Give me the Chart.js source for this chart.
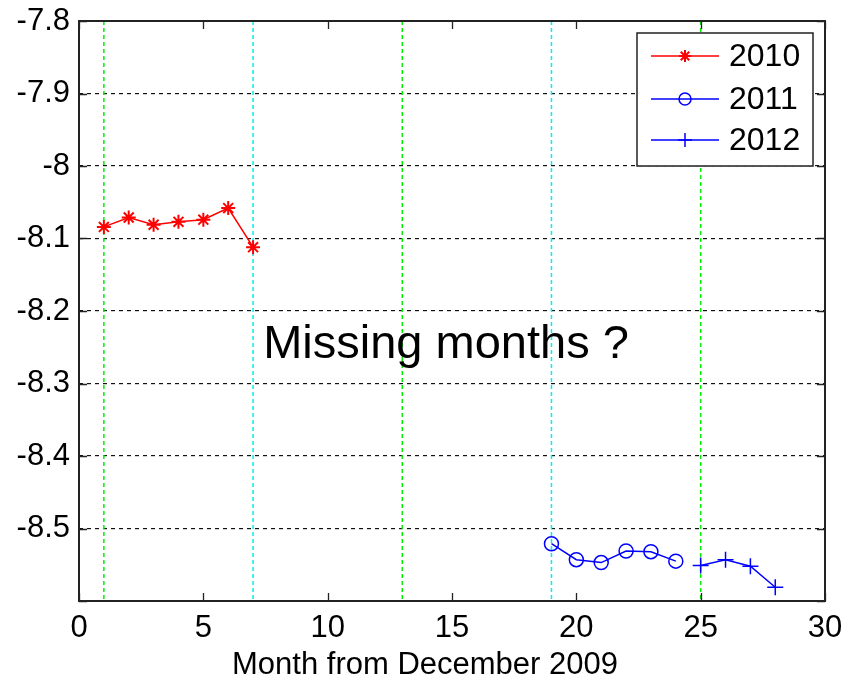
<!DOCTYPE html>
<html>
<head>
<meta charset="utf-8">
<script src="https://cdn.jsdelivr.net/npm/chart.js@4/dist/chart.umd.min.js"></script>
<style>
  html, body { margin: 0; padding: 0; background: #fff; }
  #wrap { width: 844px; height: 679px; position: relative; }
</style>
</head>
<body>
<div id="wrap"><canvas id="c" width="844" height="679"></canvas></div>
<script>
// Monthly values, x = month counted from December 2009
const months2010 = [1, 2, 3, 4, 5, 6, 7];
const values2010 = [-8.084, -8.071, -8.081, -8.077, -8.074, -8.058, -8.112];

const months2011 = [19, 20, 21, 22, 23, 24];
const values2011 = [-8.521, -8.543, -8.547, -8.531, -8.532, -8.545];

const months2012 = [25, 26, 27, 28];
const values2012 = [-8.551, -8.543, -8.552, -8.581];

// Reference month markers (January and July of each year)
const januaryMonths = [1, 13, 25];
const julyMonths = [7, 19];

const xTickValues = [0, 5, 10, 15, 20, 25, 30];
const yTickValues = [-7.8, -7.9, -8.0, -8.1, -8.2, -8.3, -8.4, -8.5, -8.6];

const xAxisTitle = 'Month from December 2009';
const noteText = 'Missing months ?';
const noteX = 14.76;
const noteY = -8.265;

const FONT = '"Liberation Sans", Arial, sans-serif';

const toPoints = (xs, ys) => xs.map((x, i) => ({ x, y: ys[i] }));

// Vertical coloured month markers plus inward tick marks and closed box
const frame = {
  id: 'frame',
  beforeDatasetsDraw(chart) {
    const { ctx, chartArea: a, scales: { x } } = chart;
    ctx.save();
    ctx.lineWidth = 1.5;
    ctx.setLineDash([4, 3]);
    const vline = (m, color) => {
      const px = x.getPixelForValue(m);
      ctx.strokeStyle = color;
      ctx.beginPath();
      ctx.moveTo(px, a.top);
      ctx.lineTo(px, a.bottom);
      ctx.stroke();
    };
    januaryMonths.forEach(m => vline(m, '#00f000'));
    julyMonths.forEach(m => vline(m, '#00f0f0'));
    ctx.restore();
  },
  afterDraw(chart) {
    const { ctx, chartArea: a, scales: { x, y } } = chart;
    ctx.save();
    ctx.strokeStyle = '#222';
    ctx.lineWidth = 1.3;
    ctx.setLineDash([]);
    const len = 8;
    ctx.beginPath();
    x.ticks.forEach(t => {
      const px = Math.round(x.getPixelForValue(t.value)) + 0.5;
      ctx.moveTo(px, a.bottom); ctx.lineTo(px, a.bottom - len);
      ctx.moveTo(px, a.top); ctx.lineTo(px, a.top + len);
    });
    y.ticks.forEach(t => {
      const py = Math.round(y.getPixelForValue(t.value)) + 0.5;
      ctx.moveTo(a.left, py); ctx.lineTo(a.left + len, py);
      ctx.moveTo(a.right, py); ctx.lineTo(a.right - len, py);
    });
    ctx.stroke();
    ctx.lineWidth = 2;
    ctx.strokeRect(a.left, a.top, a.right - a.left, a.bottom - a.top);

    // x-axis caption, centred on the figure
    ctx.fillStyle = '#000';
    ctx.font = '31px ' + FONT;
    ctx.textAlign = 'center';
    ctx.textBaseline = 'alphabetic';
    ctx.fillText(xAxisTitle, 425, 674);
    ctx.restore();
  }
};

// Annotation text placed in data coordinates
const note = {
  id: 'note',
  afterDatasetsDraw(chart) {
    const { ctx, scales: { x, y } } = chart;
    ctx.save();
    ctx.font = '47px ' + FONT;
    ctx.fillStyle = '#000';
    ctx.textAlign = 'center';
    ctx.textBaseline = 'alphabetic';
    ctx.fillText(noteText, x.getPixelForValue(noteX), y.getPixelForValue(noteY));
    ctx.restore();
  }
};

// Legend box with line + marker samples
const lineLegend = {
  id: 'lineLegend',
  afterDraw(chart) {
    const { ctx } = chart;
    const boxL = 637, boxT = 33, boxW = 176, boxH = 133;
    ctx.save();
    ctx.fillStyle = '#fff';
    ctx.fillRect(boxL, boxT, boxW, boxH);
    ctx.strokeStyle = '#222';
    ctx.lineWidth = 1.5;
    ctx.strokeRect(boxL, boxT, boxW, boxH);
    const rows = [56, 99, 140];
    chart.data.datasets.forEach((ds, i) => {
      const yy = rows[i];
      ctx.strokeStyle = ds.borderColor;
      ctx.lineWidth = 1.5;
      ctx.beginPath();
      ctx.moveTo(651, yy); ctx.lineTo(719, yy);
      ctx.stroke();
      ctx.fillStyle = 'rgba(0,0,0,0)';
      ctx.lineWidth = ds.pointBorderWidth;
      Chart.helpers.drawPoint(ctx, {
        pointStyle: ds.pointStyle,
        radius: ds.pointRadius - 1,
        rotation: 0,
        borderWidth: ds.pointBorderWidth
      }, 685, yy);
      ctx.fillStyle = '#000';
      ctx.font = '32px ' + FONT;
      ctx.textAlign = 'left';
      ctx.textBaseline = 'middle';
      ctx.fillText(ds.label, 729, yy + 1);
    });
    ctx.restore();
  }
};

new Chart(document.getElementById('c'), {
  type: 'line',
  data: {
    datasets: [
      {
        label: '2010',
        data: toPoints(months2010, values2010),
        borderColor: '#ff0000',
        backgroundColor: 'rgba(0,0,0,0)',
        pointBorderColor: '#ff0000',
        pointStyle: 'star',
        pointRadius: 7,
        pointBorderWidth: 2,
        borderWidth: 1.5
      },
      {
        label: '2011',
        data: toPoints(months2011, values2011),
        borderColor: '#0000ff',
        backgroundColor: 'rgba(0,0,0,0)',
        pointBorderColor: '#0000ff',
        pointStyle: 'circle',
        pointRadius: 7,
        pointBorderWidth: 1.5,
        borderWidth: 1.5
      },
      {
        label: '2012',
        data: toPoints(months2012, values2012),
        borderColor: '#0000ff',
        backgroundColor: 'rgba(0,0,0,0)',
        pointBorderColor: '#0000ff',
        pointStyle: 'cross',
        pointRadius: 8,
        pointBorderWidth: 1.5,
        borderWidth: 1.5
      }
    ]
  },
  options: {
    responsive: false,
    animation: false,
    devicePixelRatio: 1,
    layout: { padding: { top: 21, right: 19, left: 0, bottom: 0 } },
    plugins: {
      legend: { display: false },
      tooltip: { enabled: false }
    },
    elements: { line: { tension: 0 } },
    scales: {
      x: {
        type: 'linear',
        min: 0,
        max: 30,
        afterFit: s => { s.height = 78; s.paddingLeft = 0; s.paddingRight = 0; },
        afterBuildTicks: s => { s.ticks = xTickValues.map(v => ({ value: v })); },
        grid: { display: false, drawTicks: false },
        border: { display: false },
        ticks: {
          color: '#000',
          padding: 9,
          maxRotation: 0,
          font: { family: FONT, size: 31 },
          callback: v => String(v)
        }
      },
      y: {
        type: 'linear',
        min: -8.6,
        max: -7.8,
        afterFit: s => { s.width = 79; s.paddingTop = 0; s.paddingBottom = 0; },
        afterBuildTicks: s => { s.ticks = yTickValues.map(v => ({ value: v })); },
        grid: {
          color: '#111',
          lineWidth: 1.2,
          drawTicks: false
        },
        border: { display: false, dash: [4, 4] },
        ticks: {
          color: '#000',
          padding: 9,
          font: { family: FONT, size: 31 },
          callback: v => (v <= -8.59 ? '' : String(parseFloat(v.toFixed(1))))
        }
      }
    }
  },
  plugins: [frame, note, lineLegend]
});
</script>
</body>
</html>
